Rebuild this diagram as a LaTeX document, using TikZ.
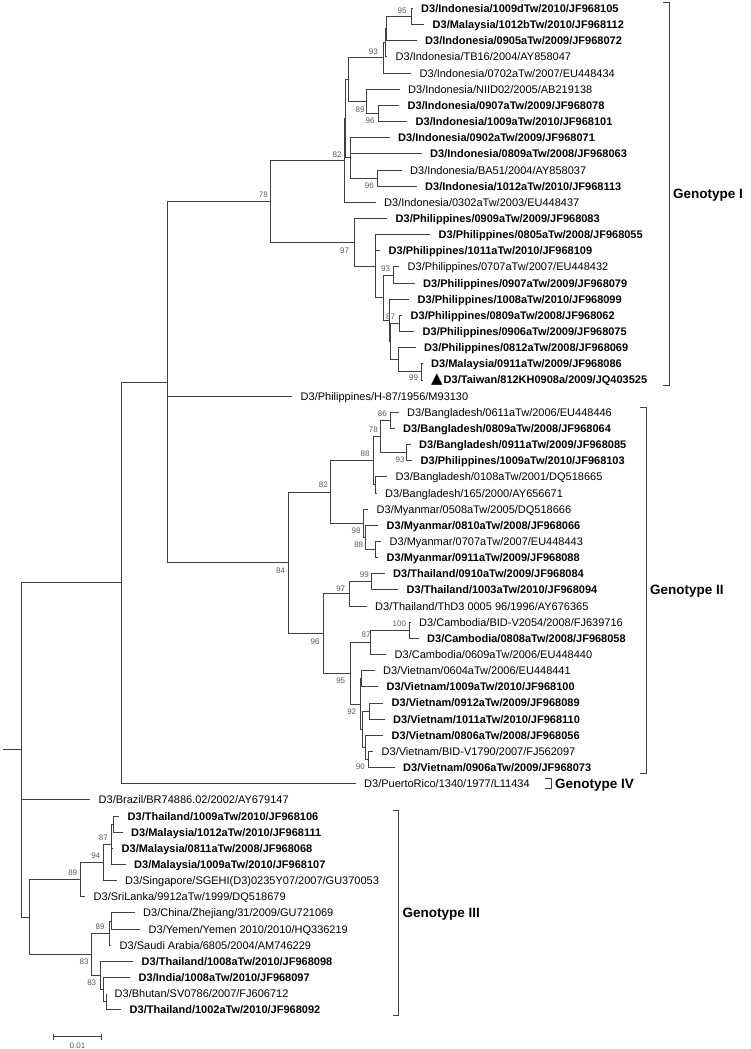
\documentclass[tikz,border=0pt]{standalone}
\usepackage{fontspec}
\setmainfont{Liberation Sans}
\newfontfamily\dejavutri{DejaVu Sans}
\usepackage{tikz}

\begin{document}
\begin{tikzpicture}[x=1pt, y=-1pt,
	branch/.style={line width=0.9pt, draw=black!75},
	taxon/.style={anchor=west, inner xsep=8.5pt, inner ysep=0pt, text height=8.5pt, text depth=0.5pt, font=\fontsize{11}{13}\selectfont},
	taxonb/.style={taxon, font=\fontsize{11}{13}\selectfont\bfseries},
	boot/.style={inner sep=0pt, text=black!65, font=\fontsize{8}{9}\selectfont},
	genotype/.style={anchor=west, inner sep=0pt, text height=9.7pt, text depth=0pt, font=\fontsize{13.5}{15}\selectfont\bfseries}]
			\begingroup
			\useasboundingbox (0,0) rectangle (750,1049);
			
			\node[taxonb] (t1) at (412.5, 8.5) {D3/Indonesia/1009dTw/2010/JF968105};
			\node[taxonb] (t2) at (424, 24.65) {D3/Malaysia/1012bTw/2010/JF968112};
			\node[taxonb] (t3) at (416.5, 40.8) {D3/Indonesia/0905aTw/2009/JF968072};
			\node[taxon] (t4) at (387, 56.95) {D3/Indonesia/TB16/2004/AY858047};
			\node[taxon] (t5) at (411, 73.1) {D3/Indonesia/0702aTw/2007/EU448434};
			\node[taxon] (t6) at (399.5, 89.25) {D3/Indonesia/NIID02/2005/AB219138};
			\node[taxonb] (t7) at (399, 105.4) {D3/Indonesia/0907aTw/2009/JF968078};
			\node[taxonb] (t8) at (407, 121.55) {D3/Indonesia/1009aTw/2010/JF968101};
			\node[taxonb] (t9) at (389.5, 137.7) {D3/Indonesia/0902aTw/2009/JF968071};
			\node[taxonb] (t10) at (421.5, 153.85) {D3/Indonesia/0809aTw/2008/JF968063};
			\node[taxon] (t11) at (401.5, 170) {D3/Indonesia/BA51/2004/AY858037};
			\node[taxonb] (t12) at (416.5, 186.15) {D3/Indonesia/1012aTw/2010/JF968113};
			\node[taxon] (t13) at (375.5, 202.3) {D3/Indonesia/0302aTw/2003/EU448437};
			\node[taxonb] (t14) at (387, 218.45) {D3/Philippines/0909aTw/2009/JF968083};
			\node[taxonb] (t15) at (430, 234.6) {D3/Philippines/0805aTw/2008/JF968055};
			\node[taxonb] (t16) at (380, 250.75) {D3/Philippines/1011aTw/2010/JF968109};
			\node[taxon] (t17) at (399, 266.9) {D3/Philippines/0707aTw/2007/EU448432};
			\node[taxonb] (t18) at (414.5, 283.05) {D3/Philippines/0907aTw/2009/JF968079};
			\node[taxonb] (t19) at (409, 299.2) {D3/Philippines/1008aTw/2010/JF968099};
			\node[taxonb] (t20) at (402, 315.35) {D3/Philippines/0809aTw/2008/JF968062};
			\node[taxonb] (t21) at (414, 331.5) {D3/Philippines/0906aTw/2009/JF968075};
			\node[taxonb] (t22) at (415.5, 347.65) {D3/Philippines/0812aTw/2008/JF968069};
			\node[taxonb] (t23) at (422.5, 363.8) {D3/Malaysia/0911aTw/2009/JF968086};
			\node[taxonb] (t24) at (422.5, 379.95) {{\dejavutri\fontsize{15}{15}\selectfont ▲}\hspace{1pt}D3/Taiwan/812KH0908a/2009/JQ403525};
			\node[taxon] (t25) at (292, 396.1) {D3/Philippines/H-87/1956/M93130};
			\node[taxon] (t26) at (398.5, 412.25) {D3/Bangladesh/0611aTw/2006/EU448446};
			\node[taxonb] (t27) at (394.5, 428.4) {D3/Bangladesh/0809aTw/2008/JF968064};
			\node[taxonb] (t28) at (410.5, 444.55) {D3/Bangladesh/0911aTw/2009/JF968085};
			\node[taxonb] (t29) at (412, 460.7) {D3/Philippines/1009aTw/2010/JF968103};
			\node[taxon] (t30) at (387, 476.85) {D3/Bangladesh/0108aTw/2001/DQ518665};
			\node[taxon] (t31) at (376.5, 493) {D3/Bangladesh/165/2000/AY656671};
			\node[taxon] (t32) at (368, 509.15) {D3/Myanmar/0508aTw/2005/DQ518666};
			\node[taxonb] (t33) at (378, 525.3) {D3/Myanmar/0810aTw/2008/JF968066};
			\node[taxon] (t34) at (381, 541.45) {D3/Myanmar/0707aTw/2007/EU448443};
			\node[taxonb] (t35) at (378, 557.6) {D3/Myanmar/0911aTw/2009/JF968088};
			\node[taxonb] (t36) at (384.5, 573.75) {D3/Thailand/0910aTw/2009/JF968084};
			\node[taxonb] (t37) at (398, 589.9) {D3/Thailand/1003aTw/2010/JF968094};
			\node[taxon] (t38) at (366.5, 606.05) {D3/Thailand/ThD3 0005 96/1996/AY676365};
			\node[taxon] (t39) at (410.5, 622.2) {D3/Cambodia/BID-V2054/2008/FJ639716};
			\node[taxonb] (t40) at (418.5, 638.35) {D3/Cambodia/0808aTw/2008/JF968058};
			\node[taxon] (t41) at (386, 654.5) {D3/Cambodia/0609aTw/2006/EU448440};
			\node[taxon] (t42) at (374.5, 670.65) {D3/Vietnam/0604aTw/2006/EU448441};
			\node[taxonb] (t43) at (378, 686.8) {D3/Vietnam/1009aTw/2010/JF968100};
			\node[taxonb] (t44) at (383, 702.95) {D3/Vietnam/0912aTw/2009/JF968089};
			\node[taxonb] (t45) at (384.5, 719.1) {D3/Vietnam/1011aTw/2010/JF968110};
			\node[taxonb] (t46) at (383, 735.25) {D3/Vietnam/0806aTw/2008/JF968056};
			\node[taxon] (t47) at (373, 751.4) {D3/Vietnam/BID-V1790/2007/FJ562097};
			\node[taxonb] (t48) at (394.5, 767.55) {D3/Vietnam/0906aTw/2009/JF968073};
			\node[taxon] (t49) at (355.5, 783.7) {D3/PuertoRico/1340/1977/L11434};
			\node[taxon] (t50) at (90, 799.85) {D3/Brazil/BR74886.02/2002/AY679147};
			\node[taxonb] (t51) at (119, 816) {D3/Thailand/1009aTw/2010/JF968106};
			\node[taxonb] (t52) at (122.5, 832.15) {D3/Malaysia/1012aTw/2010/JF968111};
			\node[taxonb] (t53) at (113, 848.3) {D3/Malaysia/0811aTw/2008/JF968068};
			\node[taxonb] (t54) at (125.5, 864.45) {D3/Malaysia/1009aTw/2010/JF968107};
			\node[taxon] (t55) at (116.5, 880.6) {D3/Singapore/SGEHI(D3)0235Y07/2007/GU370053};
			\node[taxon] (t56) at (85, 896.75) {D3/SriLanka/9912aTw/1999/DQ518679};
			\node[taxon] (t57) at (134.5, 912.9) {D3/China/Zhejiang/31/2009/GU721069};
			\node[taxon] (t58) at (140, 929.05) {D3/Yemen/Yemen 2010/2010/HQ336219};
			\node[taxon] (t59) at (111, 945.2) {D3/Saudi Arabia/6805/2004/AM746229};
			\node[taxonb] (t60) at (133, 961.35) {D3/Thailand/1008aTw/2010/JF968098};
			\node[taxonb] (t61) at (130, 977.5) {D3/India/1008aTw/2010/JF968097};
			\node[taxon] (t62) at (106, 993.65) {D3/Bhutan/SV0786/2007/FJ606712};
			\node[taxonb] (t63) at (121, 1009.8) {D3/Thailand/1002aTw/2010/JF968092};
			
			\coordinate (stub) at (3, 749.9);
			\coordinate (root) at (21, 749.9);
			\coordinate (nA) at (121, 582.9);
			\coordinate (nB) at (167, 382.1);
			\coordinate (n78) at (270.7, 201.4);
			\coordinate (n82) at (344, 160.55);
			\coordinate (nx) at (345.8, 118.8);
			\coordinate (na) at (348.3, 79.7);
			\coordinate (n93) at (383.3, 57.95);
			\coordinate (q1) at (385, 42.8);
			\coordinate (p1) at (386.5, 28.7);
			\coordinate (n95) at (411, 16.6);
			\coordinate (n89) at (366, 101.4);
			\coordinate (n96a) at (378.3, 113.5);
			\coordinate (nb) at (350.7, 157.9);
			\coordinate (n96b) at (377.3, 178.1);
			\coordinate (n97) at (354, 242.3);
			\coordinate (nr) at (375, 266.15);
			\coordinate (nw) at (383.3, 297.7);
			\coordinate (n93b) at (393.5, 275);
			\coordinate (y1) at (389.3, 320.4);
			\coordinate (y2) at (390.8, 341.6);
			\coordinate (n87) at (399.5, 323.4);
			\coordinate (nt) at (398.3, 359.8);
			\coordinate (n99) at (421.7, 371.9);
			\coordinate (n84) at (288, 562.8);
			\coordinate (n82c) at (330, 492);
			\coordinate (n88) at (373.3, 460.7);
			\coordinate (n78b) at (380.7, 436.5);
			\coordinate (n86) at (390, 420.3);
			\coordinate (n93c) at (406.7, 452.6);
			\coordinate (nz) at (375.5, 484.9);
			\coordinate (m1) at (363.3, 523.3);
			\coordinate (m2) at (365.3, 537.4);
			\coordinate (n88m) at (375, 549.5);
			\coordinate (n96c) at (323.3, 633.6);
			\coordinate (n97c) at (349.3, 593.9);
			\coordinate (n99c) at (371.7, 581.8);
			\coordinate (n95c) at (350, 673.2);
			\coordinate (n87c) at (370.7, 642.4);
			\coordinate (n100) at (409.3, 630.3);
			\coordinate (n92) at (360.3, 704);
			\coordinate (v1) at (361.3, 678.7);
			\coordinate (v5) at (362.3, 729.2);
			\coordinate (v2) at (369.3, 711);
			\coordinate (v4) at (365, 747.4);
			\coordinate (v3) at (368.3, 759.5);
			\coordinate (ng3) at (29.3, 917);
			\coordinate (n89g) at (80, 879.6);
			\coordinate (n94) at (103.3, 862.45);
			\coordinate (n87g) at (111.7, 844.3);
			\coordinate (k1) at (113.7, 824.1);
			\coordinate (n83a) at (91.7, 954.3);
			\coordinate (h2) at (109.3, 933.1);
			\coordinate (h1) at (111, 921);
			\coordinate (n83b) at (100.7, 975.5);
			\coordinate (j1) at (103.3, 989.6);
			\coordinate (j2) at (106, 1001.7);
			
			\draw[branch] (stub) -- (root);
			\foreach \p/\c in {root/nA, root/t50.west, root/ng3, nA/nB, nA/t49.west, nB/n78, nB/t25.west, nB/n84,
				n78/n82, n78/n97, n82/nx, n82/t13.west, nx/na, nx/nb, na/n93, na/n89, n93/q1, n93/t5.west,
				q1/p1, q1/t4.west, p1/n95, p1/t3.west, n95/t1.west, n95/t2.west, n89/t6.west, n89/n96a,
				n96a/t7.west, n96a/t8.west, nb/t9.west, nb/t10.west, nb/n96b, n96b/t11.west, n96b/t12.west,
				n97/t14.west, n97/nr, nr/t15.west, nr/t16.west, nr/nw, nw/n93b, nw/y1, n93b/t17.west, n93b/t18.west,
				y1/t19.west, y1/y2, y2/n87, y2/nt, n87/t20.west, n87/t21.west, nt/t22.west, nt/n99,
				n99/t23.west, n99/t24.west}
				\draw[branch] (\p) |- (\c);
			\foreach \p/\c in {n84/n82c, n84/n96c, n82c/n88, n82c/m1, n88/n78b, n88/nz, n78b/n86, n78b/n93c,
				n86/t26.west, n86/t27.west, n93c/t28.west, n93c/t29.west, nz/t30.west, nz/t31.west,
				m1/t32.west, m1/m2, m2/t33.west, m2/n88m, n88m/t34.west, n88m/t35.west,
				n96c/n97c, n96c/n95c, n97c/n99c, n97c/t38.west, n99c/t36.west, n99c/t37.west,
				n95c/n87c, n95c/n92, n87c/n100, n87c/t41.west, n100/t39.west, n100/t40.west,
				n92/v1, n92/v5, v1/t42.west, v1/t43.west, v5/v2, v5/v4, v2/t44.west, v2/t45.west,
				v4/t46.west, v4/v3, v3/t47.west, v3/t48.west}
				\draw[branch] (\p) |- (\c);
			\foreach \p/\c in {ng3/n89g, ng3/n83a, n89g/n94, n89g/t56.west, n94/n87g, n94/t55.west,
				n87g/k1, n87g/t53.west, n87g/t54.west, k1/t51.west, k1/t52.west,
				n83a/h2, n83a/n83b, h2/h1, h2/t59.west, h1/t57.west, h1/t58.west,
				n83b/t60.west, n83b/j1, j1/t61.west, j1/j2, j2/t62.west, j2/t63.west}
				\draw[branch] (\p) |- (\c);
			
			\foreach \v/\x/\y [count=\i] in {95/402/11, 93/373.3/52, 89/360/109.5, 96/370/120.7, 82/337/154.3,
				96/369.3/185.5, 78/263.3/195, 97/344.5/250.5, 93/385.5/269, 87/390.5/316.3, 99/413.5/378,
				86/382.3/413.3, 78/373.3/430, 88/365/454, 93/400/460, 82/323.3/485, 98/356/530.7,
				88/358.7/544.3, 84/280.5/571, 99/364.3/575, 97/340.7/588.3, 100/399.3/624, 87/366/635,
				96/315/641.7, 95/340.7/680.7, 92/351.7/711.7, 90/360.3/767, 87/103.3/837.7, 94/95.7/856,
				89/72.7/872.7, 89/100/926.7, 83/84/961.7, 83/91.7/982.7}
				\node[boot] (bs\i) at (\x, \y) {\v};
			
			\draw[branch] (663.3, 2.7) -- (669.3, 2.7) -- (669.3, 385) -- (663.3, 385);
			\node[genotype] (g1) at (673, 194) {Genotype I};
			\draw[branch] (640, 407.3) -- (646.7, 407.3) -- (646.7, 773.3) -- (640, 773.3);
			\node[genotype] (g2) at (650, 589.3) {Genotype II};
			\draw[branch] (545, 778.3) -- (551.7, 778.3) -- (551.7, 788.3) -- (545, 788.3);
			\node[genotype] (g4) at (555, 783.5) {Genotype IV};
			\draw[branch] (392.7, 810.7) -- (398.3, 810.7) -- (398.3, 1015) -- (392.7, 1015);
			\node[genotype] (g3) at (402.5, 912.7) {Genotype III};
			
			\draw[branch] (53.3, 1033.7) -- (53.3, 1039.7) (53.3, 1036.7) -- (101.7, 1036.7) (101.7, 1033.7) -- (101.7, 1039.7);
			\node[boot] (scale) at (77.5, 1045.5) {0.01};
			\endgroup
\end{tikzpicture}
\end{document}
